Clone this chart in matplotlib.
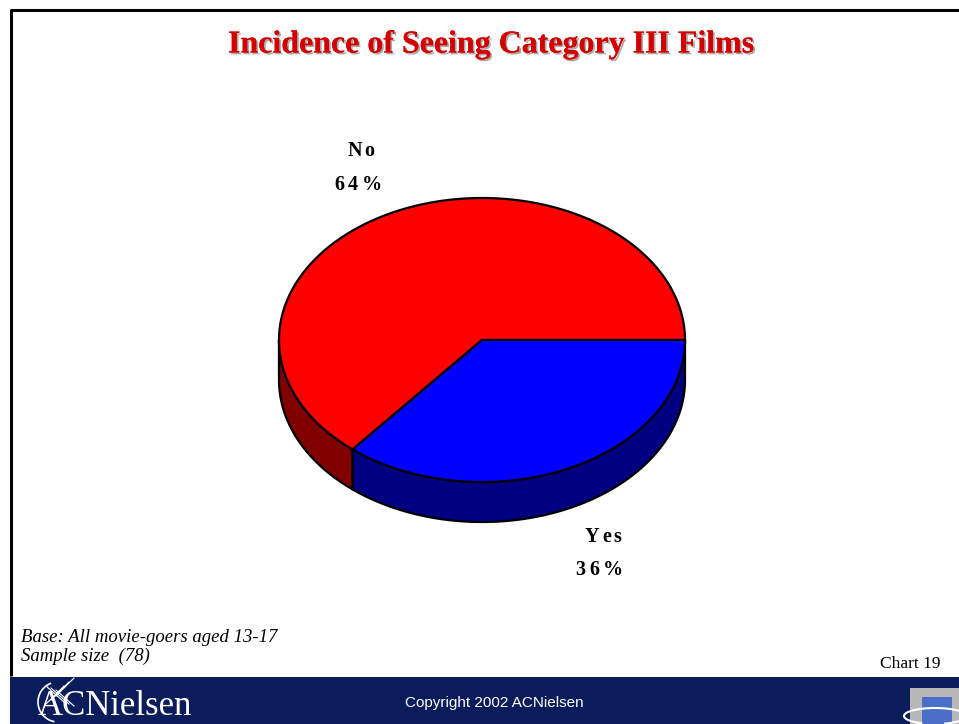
import numpy as np
import matplotlib
matplotlib.use("Agg")
import matplotlib.pyplot as plt
import matplotlib.patheffects as pe
from matplotlib.patches import Polygon, Rectangle, Arc

# chart data
labels = ["No", "Yes"]
values = [64, 36]
top_colors = ["#ff0000", "#0000ff"]
side_colors = ["#800000", "#000080"]
title = "Incidence of Seeing Category III Films"
base_note = "Base: All movie-goers aged 13-17"
sample_note = "Sample size  (78)"
chart_no = "Chart 19"
copyright_txt = "Copyright 2002 ACNielsen"

W, H = 959, 724
fig = plt.figure(figsize=(W / 100, H / 100), dpi=100)
ax = fig.add_axes([0, 0, 1, 1])
ax.set_xlim(0, W)
ax.set_ylim(H, 0)
ax.axis("off")

serif = ["Liberation Serif", "DejaVu Serif"]
sans = ["Liberation Sans", "DejaVu Sans"]
renderer = fig.canvas.get_renderer()


def spaced_text(xc, yc, s, gap, **kw):
    # draw a string char by char with extra tracking, centred on xc
    widths = []
    for ch in s:
        t = ax.text(0, 0, ch, **kw)
        widths.append(t.get_window_extent(renderer).width)
        t.remove()
    total = sum(widths) + gap * (len(s) - 1)
    x = xc - total / 2
    for ch, w in zip(s, widths):
        ax.text(x, yc, ch, ha="left", va="center", **kw)
        x += w + gap


# page frame
ax.plot([10.5, 10.5, W], [676, 9.5, 9.5], color="black", lw=2.2, solid_capstyle="butt")

# title with drop shadow
ax.text(492, 45, title, ha="center", va="center", family=serif, fontweight="bold",
        fontsize=23, color="#d40000",
        path_effects=[pe.withSimplePatchShadow(offset=(1.3, -1.3), shadow_rgbFace="#888888", alpha=0.7),
                      pe.Normal()])

# 3d pie geometry
cx, cy, rx, ry, depth = 482, 340, 203, 142, 40


def ell(t, dz=0.0):
    return np.column_stack([cx + rx * np.cos(t), cy - ry * np.sin(t) + dz])


fracs = np.array(values, dtype=float) / sum(values)
# first slice runs counter-clockwise from 3 o'clock, second closes the circle
bounds = [(0.0, 2 * np.pi * fracs[0]), (2 * np.pi * fracs[0], 2 * np.pi)]

# side walls (only the front half is visible)
for (a0, a1), col in zip(bounds, side_colors):
    s0, s1 = max(a0, np.pi), min(a1, 2 * np.pi)
    if s1 <= s0:
        continue
    t = np.linspace(s0, s1, 200)
    pts = np.vstack([ell(t), ell(t[::-1], depth)])
    ax.add_patch(Polygon(pts, closed=True, fc=col, ec="black", lw=1.6, joinstyle="round"))

# top faces
for (a0, a1), col in zip(bounds, top_colors):
    t = np.linspace(a0, a1, 300)
    pts = np.vstack([[cx, cy], ell(t)])
    ax.add_patch(Polygon(pts, closed=True, fc=col, ec="black", lw=1.6, joinstyle="round"))

# slice labels
lab_pos = [(361, 151, 358, 185), (603, 537, 599, 570)]
lab_kw = dict(family=serif, fontweight="bold", fontsize=14.5)
for lab, v, (x1, y1, x2, y2) in zip(labels, values, lab_pos):
    spaced_text(x1, y1, lab, 2.5, **lab_kw)
    spaced_text(x2, y2, f"{v}%", 3.5, **lab_kw)

# notes
ax.text(21, 638, base_note, ha="left", va="center", family=serif, style="italic", fontsize=13.5)
ax.text(21, 656, sample_note, ha="left", va="center", family=serif, style="italic", fontsize=13.5)
ax.text(940, 664, chart_no, ha="right", va="center", family=serif, fontsize=12.5)

# footer band
ax.add_patch(Rectangle((10, 677), W - 10, H - 677, fc="#0b1c5a", ec="none"))
ax.text(494, 703, copyright_txt, ha="center", va="center", family=sans, fontsize=11, color="white")

# logo text and globe strokes
ax.text(38, 723, "ACNielsen", ha="left", va="bottom", family=serif, fontsize=25, color="white")
ax.add_patch(Arc((58, 702), 40, 40, theta1=100, theta2=250, color="white", lw=1.2))
for k in range(3):
    ax.plot([46 + 5 * k, 64 + 5 * k], [704 - 4 * k, 686 - 4 * k], color="white", lw=0.8)
    ax.plot([46 + 5 * k, 64 + 5 * k], [686 + 2 * k, 702 + 2 * k], color="white", lw=0.8)

# corner badge
ax.add_patch(Rectangle((910, 688), 49, 36, fc="#b8b8b8", ec="none"))
ax.add_patch(Rectangle((922, 697), 30, 27, fc="#4a6fc8", ec="none"))
ax.add_patch(Arc((935, 716), 62, 16, theta1=150, theta2=400, color="white", lw=1.5))

fig.savefig("out.png", dpi=100, facecolor="white")
